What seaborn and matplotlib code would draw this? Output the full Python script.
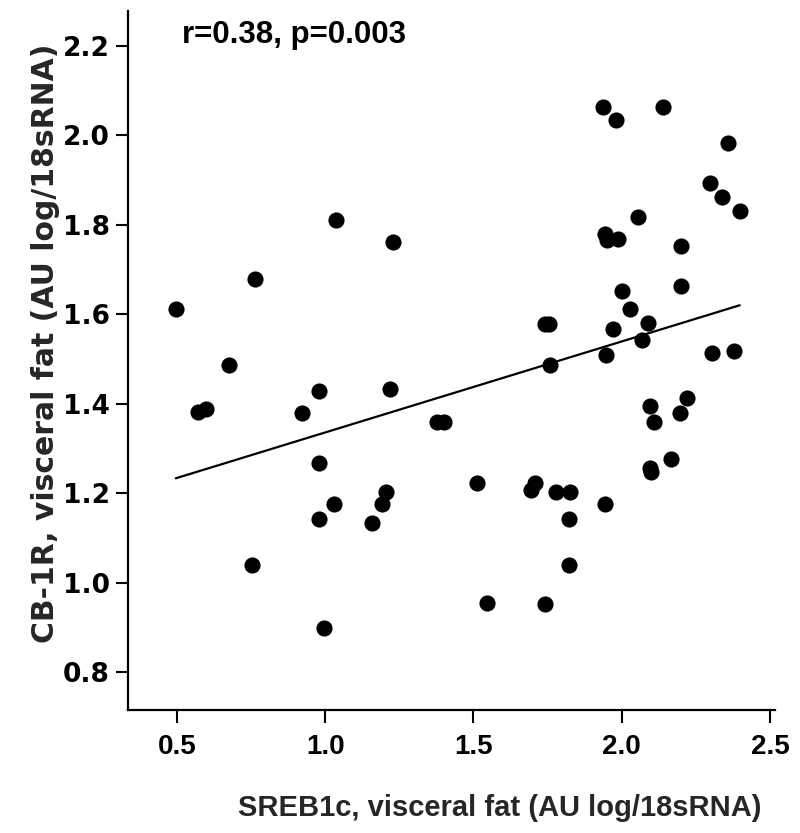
import matplotlib
matplotlib.use("Agg")
import matplotlib.pyplot as plt
import seaborn as sns
import pandas as pd

# SREB1c (x) and CB-1R (y), visceral fat, AU log/18sRNA
sreb1c = [0.496, 0.763, 1.035, 1.228, 0.676, 0.572, 0.598, 0.978, 0.923, 1.217,
          1.376, 1.400, 0.978, 1.204, 1.190, 1.031, 0.978, 1.159, 0.753, 0.996,
          1.936, 1.980, 2.139, 2.359, 2.299, 2.337, 2.398, 2.055, 1.943, 1.949,
          1.986, 2.201, 2.201, 2.000, 2.028, 1.740, 1.755, 1.969, 2.088, 2.070,
          1.947, 2.303, 2.380, 1.758, 2.097, 2.110, 2.221, 2.198, 2.166, 2.095,
          2.100, 1.513, 1.707, 1.694, 1.777, 1.826, 1.943, 1.821, 1.821, 1.545,
          1.742]
cb1r = [1.611, 1.679, 1.811, 1.762, 1.486, 1.382, 1.387, 1.429, 1.378, 1.432,
        1.358, 1.358, 1.268, 1.202, 1.175, 1.175, 1.142, 1.134, 1.039, 0.899,
        2.063, 2.034, 2.063, 1.982, 1.894, 1.863, 1.830, 1.818, 1.779, 1.766,
        1.769, 1.753, 1.663, 1.652, 1.612, 1.578, 1.578, 1.566, 1.580, 1.542,
        1.509, 1.513, 1.518, 1.486, 1.395, 1.359, 1.412, 1.378, 1.277, 1.255,
        1.248, 1.223, 1.223, 1.207, 1.202, 1.202, 1.175, 1.142, 1.039, 0.955,
        0.951]

# regression line end points as drawn
fit_x = [0.496, 2.398]
fit_y = [1.233, 1.620]

x_ticks = [0.5, 1.0, 1.5, 2.0, 2.5]
x_tick_labels = ["0.5", "1.0", "1.5", "2.0", "2.5"]
y_ticks = [0.8, 1.0, 1.2, 1.4, 1.6, 1.8, 2.0, 2.2]
y_tick_labels = ["0.8", "1.0", "1.2", "1.4", "1.6", "1.8", "2.0", "2.2"]

annotation = "r=0.38, p=0.003"
x_label = "SREB1c, visceral fat (AU log/18sRNA)"
y_label = "CB-1R, visceral fat (AU log/18sRNA)"

sns.set_theme(style="ticks")
plt.rcParams["font.family"] = ["Liberation Sans", "DejaVu Sans"]

df = pd.DataFrame({"x": sreb1c, "y": cb1r})
line_df = pd.DataFrame({"x": fit_x, "y": fit_y})

fig = plt.figure(figsize=(8.0, 8.33), dpi=100)
ax = fig.add_axes([0.16, 0.1477, 0.80875, 0.8391])

sns.scatterplot(data=df, x="x", y="y", ax=ax, s=135, color="black",
                edgecolor="black", linewidth=0, zorder=3)
sns.lineplot(data=line_df, x="x", y="y", ax=ax, color="black", linewidth=1.6,
             zorder=2)

ax.set_xlim(0.335, 2.517)
ax.set_ylim(0.715, 2.278)
ax.set_xticks(x_ticks)
ax.set_xticklabels(x_tick_labels)
ax.set_yticks(y_ticks)
ax.set_yticklabels(y_tick_labels)

for side in ["top", "right"]:
    ax.spines[side].set_visible(False)
for side in ["left", "bottom"]:
    ax.spines[side].set_linewidth(1.6)
    ax.spines[side].set_color("black")

ax.tick_params(axis="both", direction="out", length=9, width=1.5,
               colors="black")
ax.tick_params(axis="x", pad=8, labelsize=20)
ax.tick_params(axis="y", pad=4, labelsize=19)
for lab in ax.get_xticklabels():
    lab.set_fontweight("bold")
for lab in ax.get_yticklabels():
    lab.set_fontweight("bold")
    lab.set_family(["DejaVu Sans"])

ax.set_xlabel(x_label, fontsize=21, fontweight="bold", va="center",
              ha="center")
ax.xaxis.set_label_coords(0.574, -0.140)
ax.set_ylabel(y_label, fontsize=21.5, fontweight="bold", va="center",
              ha="center", family=["DejaVu Sans"])
ax.yaxis.set_label_coords(-0.128, 0.524)

ax.text(0.0835, 0.965, annotation, transform=ax.transAxes, fontsize=22.5,
        fontweight="bold", ha="left", va="center", color="black")

ax.grid(False)
fig.savefig("out.png", dpi=100)
